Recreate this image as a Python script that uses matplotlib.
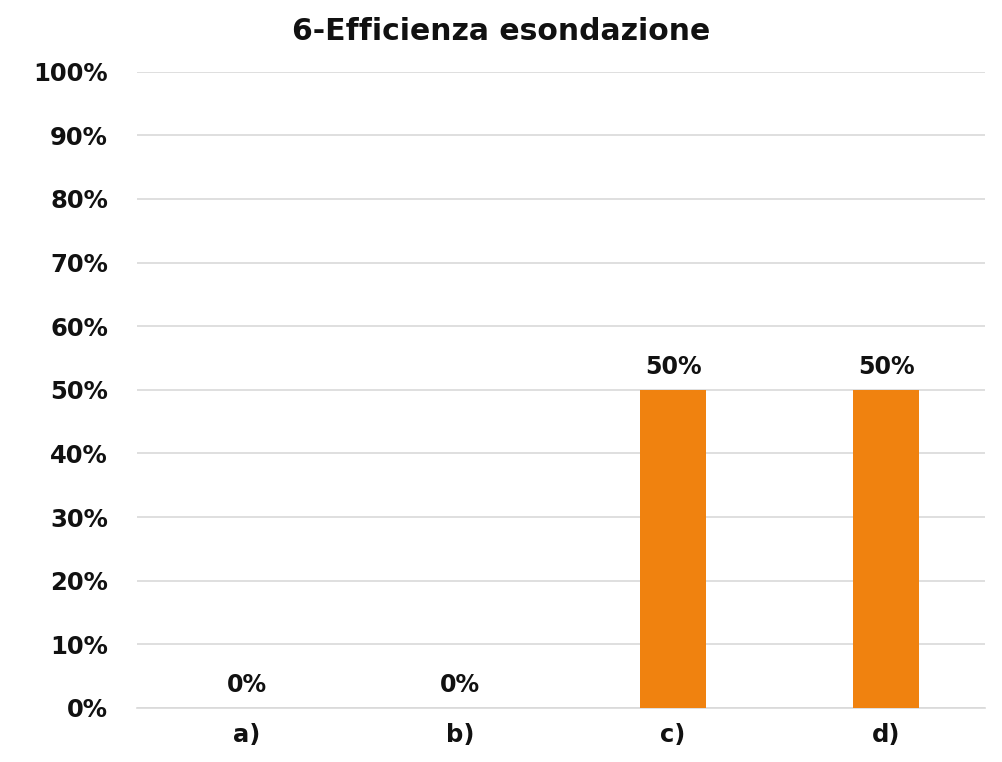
import matplotlib
matplotlib.use('Agg')
import matplotlib.pyplot as plt
from matplotlib.ticker import PercentFormatter

categories = ['a)', 'b)', 'c)', 'd)']
values = [0, 0, 50, 50]
title = '6-Efficienza esondazione'

plt.rcParams['font.family'] = ['DejaVu Sans']
plt.rcParams['font.weight'] = 'bold'

fig = plt.figure(figsize=(10.02, 7.62), dpi=100)
ax = fig.add_axes([0.137, 0.071, 0.846, 0.835])

x = range(len(categories))
bars = ax.bar(x, values, width=0.31, color='#F0820F', zorder=3)

for xi, v in zip(x, values):
    ax.annotate('{}%'.format(v), (xi, v), xytext=(0, 8), textcoords='offset points',
                ha='center', va='bottom', fontsize=17, fontweight='bold', color='#111111')

ax.set_ylim(0, 100)
ax.set_xlim(-0.516, 3.464)
ax.set_yticks(range(0, 101, 10))
ax.yaxis.set_major_formatter(PercentFormatter(decimals=0))
ax.set_xticks(list(x))
ax.set_xticklabels(categories)
ax.tick_params(axis='both', length=0, labelsize=17.5, colors='#111111')
ax.tick_params(axis='y', pad=21)
ax.tick_params(axis='x', pad=11)
for lab in ax.get_xticklabels() + ax.get_yticklabels():
    lab.set_fontweight('bold')

ax.grid(True, axis='y', color='#d9d9d9', linewidth=1.2, zorder=0)
for side in ['top', 'right', 'left']:
    ax.spines[side].set_visible(False)
ax.spines['bottom'].set_color('#d9d9d9')
ax.spines['bottom'].set_linewidth(1.2)

fig.suptitle(title, y=0.978, fontsize=21.5, fontweight='bold', color='#111111')

fig.savefig('out.png', dpi=100)
